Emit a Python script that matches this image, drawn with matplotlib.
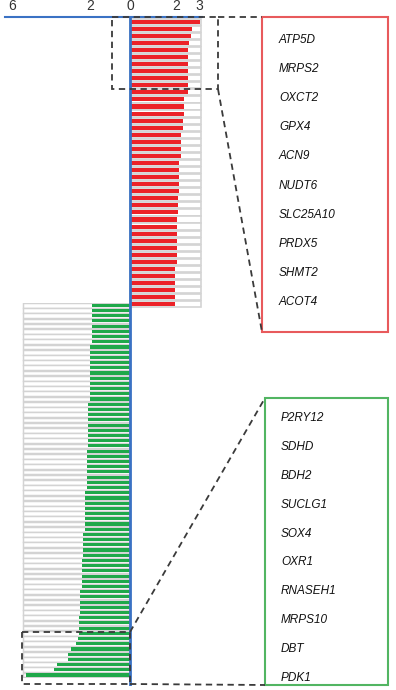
import numpy as np
import matplotlib
matplotlib.use("Agg")
import matplotlib.pyplot as plt
from matplotlib.patches import Rectangle

plt.rcParams['font.family'] = ['Liberation Sans', 'DejaVu Sans']

# values (fold change, top to bottom)
up_values = [3.04, 2.71, 2.64, 2.57, 2.51, 2.51, 2.51, 2.51, 2.51, 2.51, 2.51,
             2.36, 2.36, 2.36, 2.29, 2.29, 2.22, 2.22, 2.22, 2.22,
             2.14, 2.14, 2.14, 2.14, 2.14, 2.10, 2.10, 2.10,
             2.03, 2.03, 2.03, 2.03, 2.03, 2.03, 2.03,
             1.96, 1.96, 1.96, 1.96, 1.96, 1.96]
down_values = [1.94, 1.94, 1.94, 1.94, 1.94, 1.94, 1.94, 1.94,
               2.03, 2.03, 2.03, 2.03, 2.03, 2.03, 2.03, 2.03, 2.03, 2.03, 2.03,
               2.12, 2.12, 2.12, 2.12, 2.12, 2.12, 2.12, 2.12, 2.12,
               2.20, 2.20, 2.20, 2.20, 2.20, 2.20, 2.20, 2.20,
               2.28, 2.28, 2.28, 2.28, 2.28, 2.28, 2.28, 2.28,
               2.37, 2.37, 2.37, 2.37, 2.37,
               2.45, 2.45, 2.45, 2.45, 2.45, 2.45,
               2.53, 2.53, 2.53, 2.53, 2.53,
               2.58, 2.58,
               2.59, 2.59, 2.62, 2.74, 3.00, 3.13, 3.13, 3.72, 3.86, 5.29]
up_max = 3.1
down_max = 5.45

up_genes = ['ATP5D', 'MRPS2', 'OXCT2', 'GPX4', 'ACN9', 'NUDT6', 'SLC25A10',
            'PRDX5', 'SHMT2', 'ACOT4']
down_genes = ['P2RY12', 'SDHD', 'BDH2', 'SUCLG1', 'SOX4', 'OXR1', 'RNASEH1',
              'MRPS10', 'DBT', 'PDK1']
tick_values = [-6, -2, 0, 2, 3]

W, H = 396, 690
RED = '#ec2228'
GREEN = '#1fa84a'
BLUE = '#3a72c4'
GRAY = '#d3d3d3'

# left side of the axis is drawn a bit more compressed than the right
LEFT_K = 19.7 / 23.0


def fwd(x):
    x = np.asarray(x, float)
    return np.where(x < 0, x * LEFT_K, x)


def inv(x):
    x = np.asarray(x, float)
    return np.where(x < 0, x / LEFT_K, x)


def px_axes(fig, left, top, right, bottom):
    return fig.add_axes([left / W, 1 - bottom / H, (right - left) / W, (bottom - top) / H])


XLIM = (-6.35, 3.13)
fig = plt.figure(figsize=(W / 100, H / 100), dpi=100)

# red panel
ax_up = px_axes(fig, 5, 18.2, 202, 307.8)
ax_up.set_xscale('function', functions=(fwd, inv))
y_up = np.arange(len(up_values))
ax_up.barh(y_up, up_max, height=0.88, color='white', edgecolor=GRAY, linewidth=1.2)
ax_up.barh(y_up, up_values, height=0.58, color=RED, linewidth=0)
ax_up.set_xlim(*XLIM)
ax_up.set_ylim(len(up_values) - 0.5, -0.5)
ax_up.axis('off')

# green panel
ax_dn = px_axes(fig, 5, 302.7, 202, 677.6)
ax_dn.set_xscale('function', functions=(fwd, inv))
y_dn = np.arange(len(down_values))
ax_dn.barh(y_dn, -down_max, height=0.9, color='white', edgecolor=GRAY, linewidth=1.05)
ax_dn.barh(y_dn, -np.array(down_values), height=0.6, color=GREEN, linewidth=0)
ax_dn.set_xlim(*XLIM)
ax_dn.set_ylim(len(down_values) - 0.5, -0.5)
ax_dn.axis('off')

# axis frame with top scale and zero line
ax = px_axes(fig, 5, 17, 202, 686)
ax.set_xscale('function', functions=(fwd, inv))
ax.set_xlim(*XLIM)
ax.set_ylim(0, 1)
ax.patch.set_visible(False)
ax.set_zorder(3)
for s in ['left', 'right', 'bottom']:
    ax.spines[s].set_visible(False)
ax.spines['top'].set_color(BLUE)
ax.spines['top'].set_linewidth(1.5)
ax.axvline(0, color=BLUE, lw=2)
ax.set_xticks(tick_values)
ax.set_xticklabels([str(abs(v)) for v in tick_values])
ax.set_yticks([])
ax.tick_params(axis='x', top=True, bottom=False, labeltop=True, labelbottom=False,
               length=0, pad=3, labelsize=10, labelcolor='#333333')

# overlay in pixel coords for the zoom boxes and gene lists
ov = fig.add_axes([0, 0, 1, 1])
ov.set_xlim(0, W)
ov.set_ylim(H, 0)
ov.axis('off')
ov.set_zorder(4)
dash = dict(color='#3a3a3a', lw=1.3, ls=(0, (3.5, 2.5)))

ov.add_patch(Rectangle((112, 17), 106, 72, fill=False, **dash))
ov.plot([218, 262], [17, 17], **dash)
ov.plot([218, 262], [89, 332], **dash)
ov.add_patch(Rectangle((262, 17), 126, 315, fill=False, edgecolor='#e85a5c', lw=1.5))

ov.add_patch(Rectangle((22, 632), 108, 52, fill=False, **dash))
ov.plot([130, 265], [632, 398], **dash)
ov.plot([130, 265], [684, 685], **dash)
ov.add_patch(Rectangle((265, 398), 123, 287, fill=False, edgecolor='#52b562', lw=1.5))

for g, yy in zip(up_genes, np.linspace(40, 302, len(up_genes))):
    ov.text(279, yy, g, style='italic', fontsize=8.5, va='center', ha='left', color='#111111')
for g, yy in zip(down_genes, np.linspace(418, 678, len(down_genes))):
    ov.text(281, yy, g, style='italic', fontsize=8.5, va='center', ha='left', color='#111111')

fig.savefig('out.png', dpi=100)
